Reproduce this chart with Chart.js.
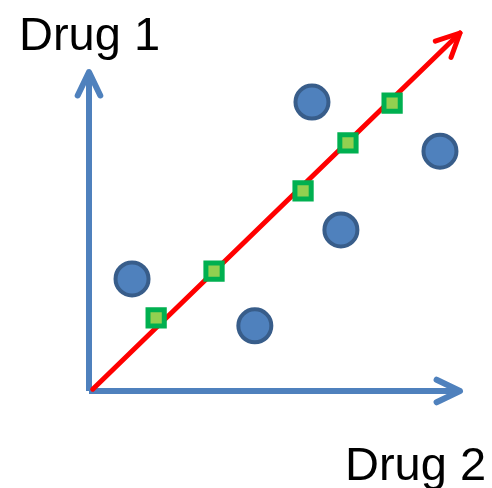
<!DOCTYPE html>
<html><head><meta charset="utf-8">
<script src="https://cdn.jsdelivr.net/npm/chart.js@4/dist/chart.umd.min.js"></script>
<style>html,body{margin:0;padding:0;background:#fff;}canvas{display:block}</style>
</head><body>
<canvas id="c" width="492" height="488"></canvas>
<script>
const xLabel = 'Drug 2';
const yLabel = 'Drug 1';
const circleX = [1.16, 4.47, 6.01, 6.79, 9.46];
const circleY = [3.13, 1.82, 8.07, 4.50, 6.70];
const squareX = [1.81, 3.37, 5.77, 6.98, 8.17];
const squareY = [2.04, 3.35, 5.59, 6.93, 8.04];
const diagX = [0.1, 10];
const diagY = [0.05, 10];
const xAxisX = [0, 10];
const xAxisY = [0, 0];
const yAxisX = [0, 0];
const yAxisY = [0, 8.91];

const pts = (xs, ys) => xs.map((x, i) => ({x: x, y: ys[i]}));

const arrowPlugin = {
  id: 'arrows',
  afterDatasetsDraw(chart) {
    const ctx = chart.ctx;
    chart.data.datasets.forEach((ds, i) => {
      if (!ds.arrow) return;
      const meta = chart.getDatasetMeta(i);
      const n = meta.data.length;
      const p1 = meta.data[n - 2], p2 = meta.data[n - 1];
      const a = Math.atan2(p2.y - p1.y, p2.x - p1.x);
      const L = 26, th = 0.45;
      ctx.save();
      ctx.strokeStyle = ds.borderColor;
      ctx.lineWidth = ds.borderWidth;
      ctx.lineCap = 'round';
      ctx.lineJoin = 'round';
      ctx.beginPath();
      ctx.moveTo(p2.x + L * Math.cos(a + Math.PI - th), p2.y + L * Math.sin(a + Math.PI - th));
      ctx.lineTo(p2.x, p2.y);
      ctx.lineTo(p2.x + L * Math.cos(a + Math.PI + th), p2.y + L * Math.sin(a + Math.PI + th));
      ctx.stroke();
      ctx.restore();
    });
    ctx.save();
    ctx.fillStyle = '#000';
    ctx.font = '47px "Liberation Sans", Arial, sans-serif';
    ctx.textBaseline = 'alphabetic';
    ctx.fillText(yLabel, 19, 50);
    ctx.fillText(xLabel, 345, 480);
    ctx.restore();
  }
};

new Chart(document.getElementById('c'), {
  type: 'scatter',
  data: {
    datasets: [
      {
        label: 'Combination',
        data: pts(squareX, squareY),
        pointStyle: 'rect',
        pointRadius: 11.5,
        borderWidth: 5,
        borderColor: '#00B050',
        backgroundColor: '#92D050',
        clip: false
      },
      {
        label: 'Observed',
        data: pts(circleX, circleY),
        pointStyle: 'circle',
        pointRadius: 16.5,
        borderWidth: 4,
        borderColor: '#385D8A',
        backgroundColor: '#4F81BD',
        clip: false
      },
      {
        label: 'Additivity',
        data: pts(diagX, diagY),
        showLine: true,
        pointRadius: 0,
        borderWidth: 5,
        borderColor: '#FF0000',
        borderCapStyle: 'round',
        arrow: true,
        clip: false
      },
      {
        label: 'x axis',
        data: pts(xAxisX, xAxisY),
        showLine: true,
        pointRadius: 0,
        borderWidth: 6,
        borderColor: '#4F81BD',
        borderCapStyle: 'butt',
        arrow: true,
        clip: false
      },
      {
        label: 'y axis',
        data: pts(yAxisX, yAxisY),
        showLine: true,
        pointRadius: 0,
        borderWidth: 6,
        borderColor: '#4F81BD',
        borderCapStyle: 'butt',
        arrow: true,
        clip: false
      }
    ]
  },
  options: {
    responsive: false,
    animation: false,
    devicePixelRatio: 1,
    layout: { padding: { left: 89, top: 33, right: 32, bottom: 97 } },
    scales: {
      x: { type: 'linear', min: 0, max: 10, display: false },
      y: { type: 'linear', min: 0, max: 10, display: false }
    },
    plugins: { legend: { display: false }, tooltip: { enabled: false }, title: { display: false } },
    events: []
  },
  plugins: [arrowPlugin]
});
</script>
</body></html>
